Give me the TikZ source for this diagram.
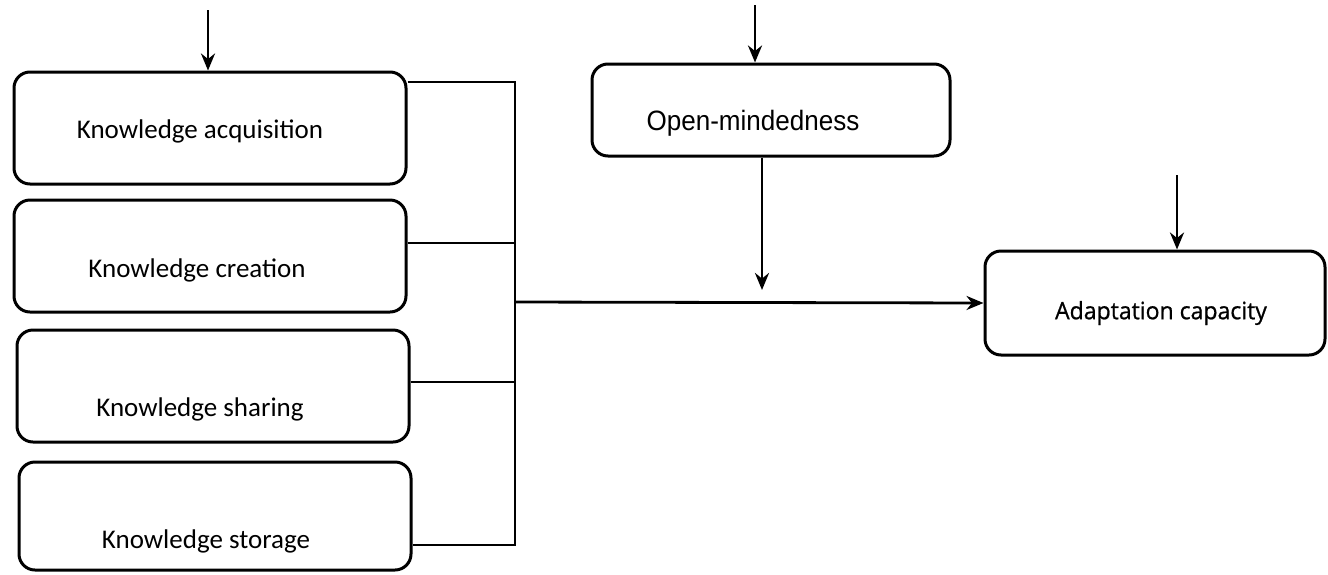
\documentclass[tikz,border=0pt]{standalone}
\usepackage{fontspec}
\setmainfont{Carlito}
\newfontfamily\narrowfont{Liberation Sans}
\newfontfamily\acfont[FakeBold=0.8]{Open Sans}
\usetikzlibrary{arrows.meta,calc}
\tikzset{
  kbox/.style={draw, line width=3pt, rounded corners=16pt, minimum width=392pt, minimum height=112pt, inner sep=0pt},
  rbox/.style={draw, line width=3pt, rounded corners=16pt, inner sep=0pt},
  lbl/.style={font=\fontsize{27}{30}\selectfont, inner sep=0pt},
  nlbl/.style={font=\narrowfont\fontsize{28}{32}\selectfont, inner sep=0pt, xscale=0.93},
  albl/.style={font=\acfont\fontsize{24}{28}\selectfont, inner sep=0pt, xscale=0.96},
  conn/.style={line width=2.2pt},
  arr/.style={line width=2.8pt, -{Stealth[length=17pt,width=14pt]}},
}
\begin{document}
\begin{tikzpicture}[x=1pt,y=-1pt]
\useasboundingbox (0,0) rectangle (1328,574);
% left boxes
\node[kbox] (b1) at (210,128) {};
\node[kbox] (b2) at (210,256) {};
\node[kbox] (b3) at (213,386) {};
\node[kbox, minimum height=108pt] (b4) at (215,516) {};
\node[lbl] (t1) at (200,131) {Knowledge acquisition};
\node[lbl] (t2) at (197,270) {Knowledge creation};
\node[lbl] (t3) at (200,409) {Knowledge sharing};
\node[lbl] (t4) at (206,541) {Knowledge storage};
% open-mindedness
\node[rbox, minimum width=358pt, minimum height=92pt] (om) at (771,110) {};
\node[nlbl] (tom) at (753,123) {Open-mindedness};
% adaptation capacity
\node[rbox, minimum width=340pt, minimum height=104pt] (ac) at (1155,303) {};
\node[albl] (tac) at (1161,313) {Adaptation capacity};
% bracket
\coordinate (v1) at (515,82);
\coordinate (v4) at (515,545);
\coordinate (m) at (515,302);
\draw[conn] (b1.east |- v1) -- (v1) -- (v4) -- (b4.east |- v4);
\draw[conn] (b2.east |- 0,243) -- (515,243);
\draw[conn] (b3.east |- 0,382) -- (515,382);
\draw[arr] (m) -- (ac.west);
% top arrows
\coordinate (a1) at (208,10);
\draw[arr] (a1) -- (a1 |- b1.north);
\coordinate (a2) at (755,5);
\draw[arr] (a2) -- (a2 |- om.north);
\coordinate (a3) at (1177,175);
\draw[arr] (a3) -- (a3 |- ac.north);
\coordinate (a4) at (762,290);
\draw[arr] (om.south -| a4) -- (a4);
\end{tikzpicture}
\end{document}
